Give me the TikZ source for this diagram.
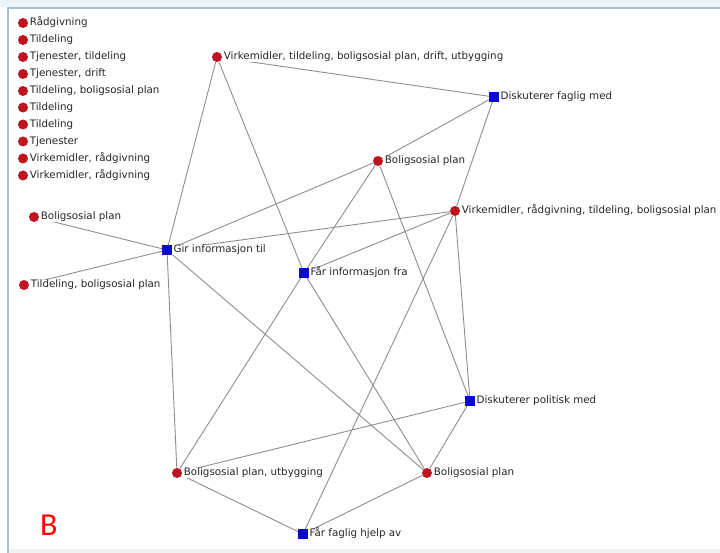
\documentclass[tikz,border=0pt]{standalone}
\usepackage{fontspec}
\usepackage{tikz}
\usetikzlibrary{backgrounds}
\newfontfamily\lblfont{DejaVu Sans}
\newfontfamily\letterfont{Carlito}
\definecolor{dotred}{HTML}{C0141E}
\definecolor{sqblue}{HTML}{0A0ACC}
\definecolor{edgegrey}{HTML}{8E8E8E}
\definecolor{framecol}{HTML}{A8C0CD}
\definecolor{stripcol}{HTML}{EAF5FA}

\begin{document}
\begin{tikzpicture}[x=1pt,y=-1pt,
    actor/.style={circle, fill=dotred, inner sep=0pt, minimum size=10pt},
    tie/.style={rectangle, fill=sqblue, inner sep=0pt, minimum size=9.5pt},
    lbl/.style={anchor=west, fill=white, inner xsep=1.5pt, inner ysep=0.5pt,
                text height=7.5pt, text depth=2pt, text=black!85,
                font=\lblfont\fontsize{10.3}{11}\selectfont},
    link/.style={draw=edgegrey, line width=0.9pt}]

    \useasboundingbox (0,0) rectangle (720,553);

    % frame of the window
    \begin{scope}[on background layer]
    \fill[white] (0,0) rectangle (720,553);
    \fill[stripcol] (0,0) rectangle (720,7.5);
    \fill[black!5] (8,549) rectangle (720,553);
    \draw[framecol, line width=1.3pt] (8,553) -- (8,8) -- (720,8);
    \end{scope}

    % isolated actors
    \node[actor] (r1) at (23,23) {};
    \node[lbl] at (r1.east) {Rådgivning};
    \node[actor] (r2) at (23,40) {};
    \node[lbl] at (r2.east) {Tildeling};
    \node[actor] (r3) at (23,57) {};
    \node[lbl] at (r3.east) {Tjenester, tildeling};
    \node[actor] (r4) at (23,74) {};
    \node[lbl] at (r4.east) {Tjenester, drift};
    \node[actor] (r5) at (23,91) {};
    \node[lbl] at (r5.east) {Tildeling, boligsosial plan};
    \node[actor] (r6) at (23,107.5) {};
    \node[lbl] at (r6.east) {Tildeling};
    \node[actor] (r7) at (23,124.5) {};
    \node[lbl] at (r7.east) {Tildeling};
    \node[actor] (r8) at (23,141.5) {};
    \node[lbl] at (r8.east) {Tjenester};
    \node[actor] (r9) at (23,158.5) {};
    \node[lbl] at (r9.east) {Virkemidler, rådgivning};
    \node[actor] (r10) at (23,175.5) {};
    \node[lbl] at (r10.east) {Virkemidler, rådgivning};

    % connected actors
    \node[actor] (bolig1) at (34,217) {};
    \node[lbl] at (bolig1.east) {Boligsosial plan};
    \node[actor] (tildBolig) at (24,285) {};
    \node[lbl] at (tildBolig.east) {Tildeling, boligsosial plan};
    \node[actor] (virkTild) at (217,57) {};
    \node[lbl] at (virkTild.east) {Virkemidler, tildeling, boligsosial plan, drift, utbygging};
    \node[actor] (bolig2) at (378,161) {};
    \node[lbl] at (bolig2.east) {Boligsosial plan};
    \node[actor] (virkRad) at (455,211) {};
    \node[lbl] at (virkRad.east) {Virkemidler, rådgivning, tildeling, boligsosial plan};
    \node[actor] (boligUtb) at (177,473) {};
    \node[lbl] at (boligUtb.east) {Boligsosial plan, utbygging};
    \node[actor] (bolig3) at (427,473) {};
    \node[lbl] at (bolig3.east) {Boligsosial plan};

    % relations
    \node[tie] (girInfo) at (167,250) {};
    \node[lbl] at (girInfo.east) {Gir informasjon til};
    \node[tie] (faarInfo) at (304,273) {};
    \node[lbl] at (faarInfo.east) {Får informasjon fra};
    \node[tie] (diskFaglig) at (494,97) {};
    \node[lbl] at (diskFaglig.east) {Diskuterer faglig med};
    \node[tie] (diskPolitisk) at (470,401) {};
    \node[lbl] at (diskPolitisk.east) {Diskuterer politisk med};
    \node[tie] (faarHjelp) at (303,534) {};
    \node[lbl] at (faarHjelp.east) {Får faglig hjelp av};

    \node[anchor=base west, inner sep=0pt, text=red,
          font=\letterfont\fontsize{32}{34}\selectfont] (panel) at (40,535) {B};

    \begin{scope}[on background layer]
    \path[every edge/.style={link}]
    (bolig1) edge (girInfo)
    (tildBolig) edge (girInfo)
    (virkTild) edge (girInfo)
    (virkTild) edge (faarInfo)
    (virkTild) edge (diskFaglig)
    (girInfo) edge (bolig2)
    (girInfo) edge (virkRad)
    (girInfo) edge (boligUtb)
    (girInfo) edge (bolig3)
    (faarInfo) edge (bolig2)
    (faarInfo) edge (virkRad)
    (faarInfo) edge (boligUtb)
    (faarInfo) edge (bolig3)
    (diskFaglig) edge (bolig2)
    (diskFaglig) edge (virkRad)
    (bolig2) edge (diskPolitisk)
    (virkRad) edge (diskPolitisk)
    (virkRad) edge (faarHjelp)
    (diskPolitisk) edge (boligUtb)
    (diskPolitisk) edge (bolig3)
    (faarHjelp) edge (boligUtb)
    (faarHjelp) edge (bolig3);
    \end{scope}

\end{tikzpicture}
\end{document}
